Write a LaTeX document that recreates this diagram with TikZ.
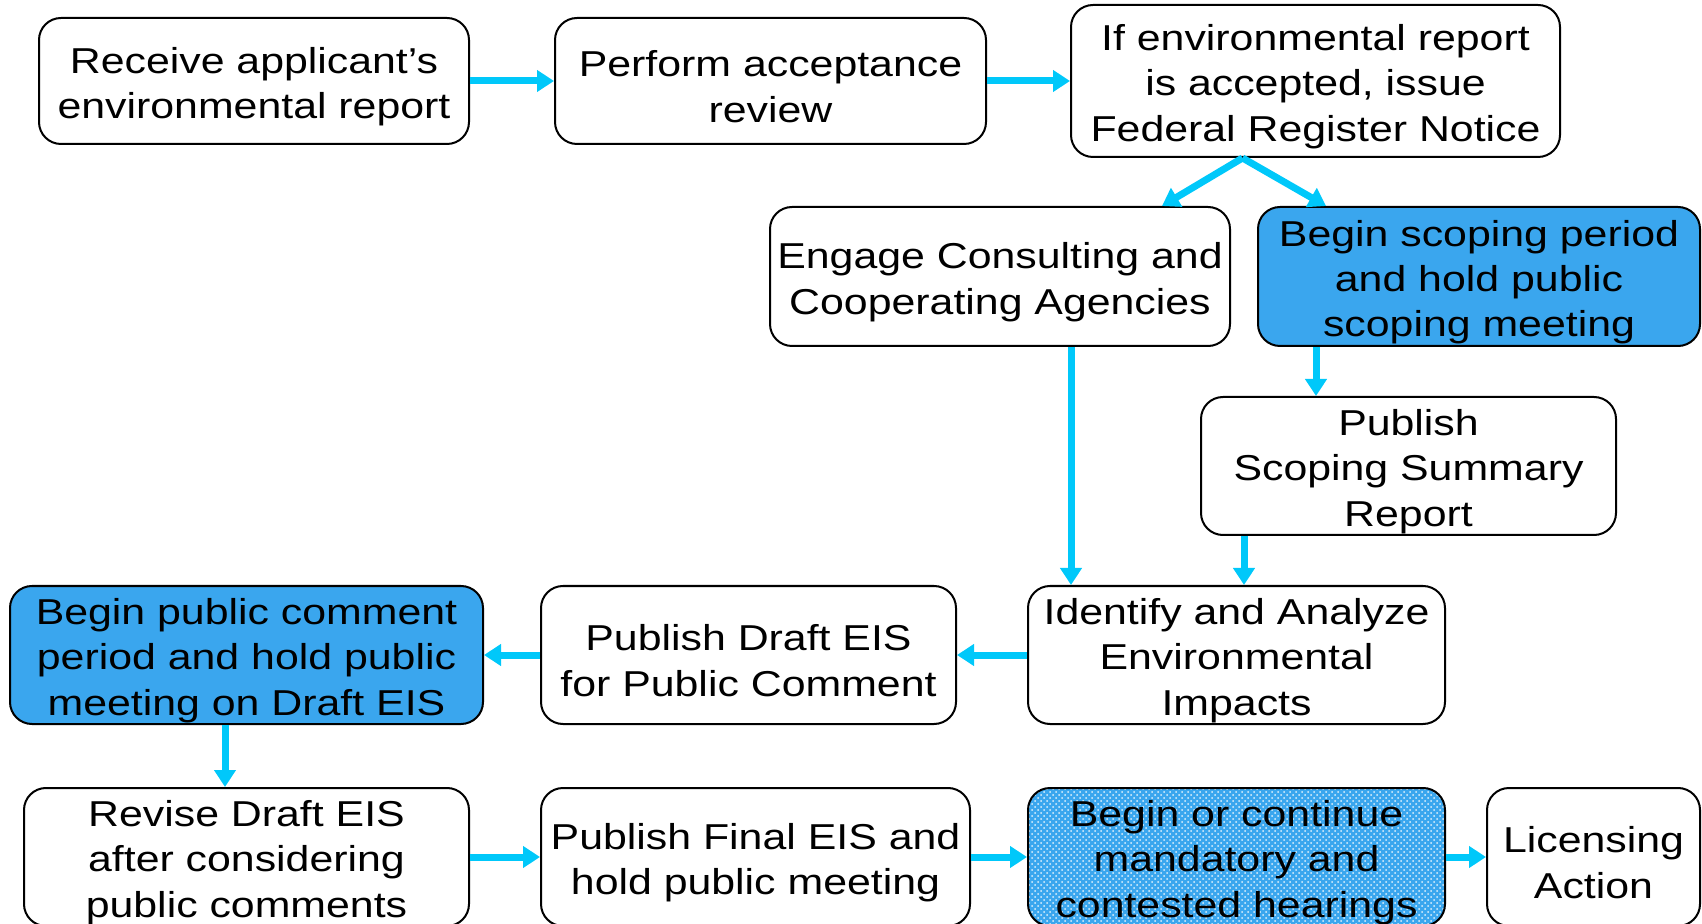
\documentclass[tikz,border=0pt]{standalone}
\usepackage{fontspec}
\setmainfont{Liberation Sans}[FakeStretch=1.19]
\usetikzlibrary{arrows.meta,calc,patterns}
\definecolor{flowcyan}{RGB}{0,200,250}
\definecolor{stepblue}{RGB}{58,166,238}
\newcommand{\toprule}{\rule{0pt}{18.7pt}}
\tikzset{
 box/.style={draw,line width=1pt,rounded corners=11pt,align=center,inner sep=0pt,
  font=\fontsize{18pt}{22.7pt}\selectfont},
 bluebox/.style={box,fill=stepblue},
 hatchbox/.style={box,preaction={fill=stepblue},pattern=crosshatch dots,pattern color=white!85!stepblue},
 flow/.style={flowcyan,line width=3.5pt,-{Triangle[width=10.5pt,length=8.5pt]}}
}
\begin{document}
\begin{tikzpicture}[x=0.5pt,y=-0.5pt]
 \clip (0,0) rectangle (1702,924);

 \node[box,minimum width=215pt,minimum height=63pt] (recv) at (254,81) {\toprule Receive applicant’s\\environmental report};
 \node[box,minimum width=215.5pt,minimum height=63pt] (accept) at (770.5,81) {\toprule Perform acceptance\\review};
 \node[box,minimum width=244.5pt,minimum height=76pt] (notice) at (1315.5,81) {\toprule If environmental report\\is accepted, issue\\Federal Register Notice};
 \node[box,minimum width=230pt,minimum height=69.5pt] (consult) at (1000,276.5) {\toprule Engage Consulting and\\Cooperating Agencies};
 \node[bluebox,minimum width=221pt,minimum height=69.5pt] (scoping) at (1479,276.5) {\toprule Begin scoping period\\and hold public\\scoping meeting};
 \node[box,minimum width=207.5pt,minimum height=69pt] (summary) at (1408.5,466) {\toprule Publish\\Scoping Summary\\Report};
 \node[box,minimum width=208.5pt,minimum height=69pt] (impacts) at (1236.5,655) {\toprule Identify and Analyze\\Environmental\\Impacts};
 \node[box,minimum width=207.5pt,minimum height=69pt] (draft) at (748.5,655) {\toprule Publish Draft EIS\\for Public Comment};
 \node[bluebox,minimum width=236.5pt,minimum height=69pt] (comment) at (246.5,655) {\toprule Begin public comment\\period and hold public\\meeting on Draft EIS};
 \node[box,minimum width=222.5pt,minimum height=69pt] (revise) at (246.5,857) {\toprule Revise Draft EIS\\after considering\\public comments};
 \node[box,minimum width=214.5pt,minimum height=69pt] (final) at (755.5,857) {\toprule Publish Final EIS and\\hold public meeting};
 \node[hatchbox,minimum width=208.5pt,minimum height=69pt] (hearing) at (1236.5,857) {\toprule Begin or continue\\mandatory and\\contested hearings};
 \node[box,minimum width=106.5pt,minimum height=69pt] (license) at (1593.5,857) {\toprule Licensing\\Action};

 \draw[flow] (recv) -- (accept);
 \draw[flow] (accept) -- (notice);
 \coordinate (split) at ($(notice.south)+(-73,0)$);
 \draw[flow] (split) -- ($(consult.north east)+(-69,0)$);
 \draw[flow] (split) -- ($(scoping.north west)+(69,0)$);
 \coordinate (c1) at ($(consult.south)+(71,0)$);
 \draw[flow] (c1) -- (c1 |- impacts.north);
 \coordinate (s1) at ($(scoping.south)+(-163,0)$);
 \draw[flow] (s1) -- (s1 |- summary.north);
 \coordinate (r1) at ($(summary.south)+(-164.5,0)$);
 \draw[flow] (r1) -- (r1 |- impacts.north);
 \draw[flow] (impacts) -- (draft);
 \draw[flow] (draft) -- (comment);
 \coordinate (p1) at ($(comment.south)+(-21.5,0)$);
 \draw[flow] (p1) -- (p1 |- revise.north);
 \draw[flow] (revise) -- (final);
 \draw[flow] (final) -- (hearing);
 \draw[flow] (hearing) -- (license);
\end{tikzpicture}
\end{document}
